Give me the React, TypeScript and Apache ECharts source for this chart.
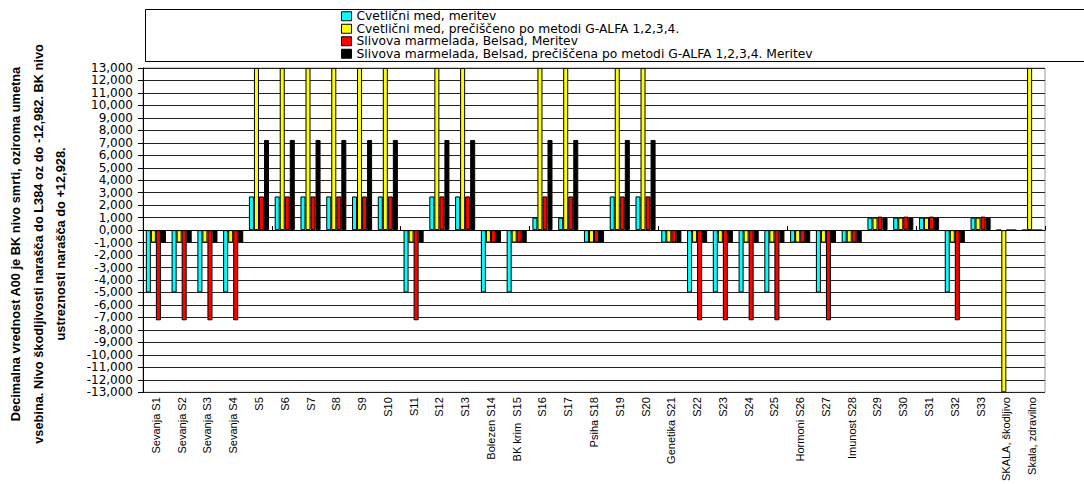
import React, { useEffect, useRef } from "react";
import * as echarts from "echarts";

const categories = [
  "Sevanja S1", "Sevanja S2", "Sevanja S3", "Sevanja S4", "S5", "S6", "S7", "S8", "S9", "S10",
  "S11", "S12", "S13", "Bolezen S14", "BK krim  S15", "S16", "S17", "Psiha S18", "S19", "S20",
  "Genetika S21", "S22", "S23", "S24", "S25", "Hormoni S26", "S27", "Imunost S28", "S29", "S30",
  "S31", "S32", "S33", "SKALA, škodljivo", "Skala, zdravilno",
];

const seriesNames = [
  "Cvetlični med, meritev",
  "Cvetlični med, prečiščeno po metodi G-ALFA 1,2,3,4.",
  "Slivova marmelada, Belsad, Meritev",
  "Slivova marmelada, Belsad, prečiščena po metodi G-ALFA 1,2,3,4. Meritev",
];

const cvetlicniMeritev = [
  -5, -5, -5, -5, 2.7, 2.7, 2.7, 2.7, 2.7, 2.7,
  -5, 2.7, 2.7, -5, -5, 1, 1, -1, 2.7, 2.7,
  -1, -5, -5, -5, -5, -1, -5, -1, 1, 1,
  1, -5, 1, 0, 0,
];

const cvetlicniPreciscen = [
  -1, -1, -1, -1, 13, 13, 13, 13, 13, 13,
  -1, 13, 13, -1, -1, 13, 13, -1, 13, 13,
  -1, -1, -1, -1, -1, -1, -1, -1, 1, 1,
  1, -1, 1, -13, 13,
];

const slivovaMeritev = [
  -7.23, -7.23, -7.23, -7.23, 2.7, 2.7, 2.7, 2.7, 2.7, 2.7,
  -7.23, 2.7, 2.7, -1, -1, 2.7, 2.7, -1, 2.7, 2.7,
  -1, -7.23, -7.23, -7.23, -7.23, -1, -7.23, -1, 1.08, 1.08,
  1.08, -7.23, 1.08, 0, 0,
];

const slivovaPreciscena = [
  -1, -1, -1, -1, 7.23, 7.23, 7.23, 7.23, 7.23, 7.23,
  -1, 7.23, 7.23, -1, -1, 7.23, 7.23, -1, 7.23, 7.23,
  -1, -1, -1, -1, -1, -1, -1, -1, 1, 1,
  1, -1, 1, 0, 0,
];

const seriesColors = ["#00FFFF", "#FFFF00", "#FF0000", "#000000"];

const yTitleLines = [
  "Decimalna vrednost A00 je BK nivo smrti, oziroma umetna",
  "vsebina. Nivo škodljivosti narašča do L384 oz do -12,982. BK nivo",
  "ustreznosti narašča do +12,928.",
];

export default function App() {
  const ref = useRef<HTMLDivElement>(null);

  useEffect(() => {
    if (!ref.current) return;
    const chart = echarts.init(ref.current, undefined, { renderer: "svg" });
    const values = [cvetlicniMeritev, cvetlicniPreciscen, slivovaMeritev, slivovaPreciscena];
    const font = "'DejaVu Sans', 'Liberation Sans', Arial, sans-serif";
    const lineX = [15, 38, 60];

    chart.setOption({
      animation: false,
      backgroundColor: "#ffffff",
      graphic: [
        {
          type: "rect",
          shape: { x: 145.5, y: 9.5, width: 960, height: 52 },
          style: { fill: "#fff", stroke: "#000", lineWidth: 1 },
          z: -1,
        },
        ...yTitleLines.map((t, i) => ({
          type: "text",
          x: lineX[i],
          y: 244,
          rotation: Math.PI / 2,
          style: {
            text: t,
            fill: "#000",
            font: "bold 12.8px 'Liberation Sans', Arial, sans-serif",
            textAlign: "center",
            textVerticalAlign: "middle",
          },
        })),
      ],
      legend: {
        data: seriesNames,
        orient: "vertical",
        left: 341,
        top: 10,
        padding: 0,
        itemWidth: 10,
        itemHeight: 9,
        itemGap: 0,
        icon: "rect",
        itemStyle: { borderColor: "#000", borderWidth: 1 },
        textStyle: { fontFamily: font, fontSize: 12.3, color: "#000", lineHeight: 12.5 },
      },
      grid: {
        left: 143,
        top: 68,
        width: 902,
        height: 330,
        show: true,
        borderColor: "#999",
        borderWidth: 1,
        backgroundColor: "#fff",
      },
      xAxis: [
        {
          type: "category",
          data: categories,
          position: "bottom",
          axisLine: { onZero: false, show: false },
          axisTick: { show: false },
          axisLabel: {
            rotate: 90,
            interval: 0,
            margin: 5,
            fontFamily: "'Liberation Sans', Arial, sans-serif",
            fontSize: 11,
            color: "#000",
          },
        },
        {
          type: "category",
          data: categories,
          position: "bottom",
          axisLine: { onZero: true, show: true, lineStyle: { color: "#000", width: 1 } },
          axisTick: { show: true, inside: true, length: 4, lineStyle: { color: "#000" } },
          axisLabel: { show: false },
        },
      ],
      yAxis: {
        type: "value",
        min: -13,
        max: 13,
        interval: 1,
        axisLine: { show: true, lineStyle: { color: "#000" } },
        axisTick: { show: true, length: 5, lineStyle: { color: "#000" } },
        axisLabel: {
          margin: 10,
          fontFamily: font,
          fontSize: 12,
          lineHeight: 12,
          color: "#000",
          showMinLabel: true,
          showMaxLabel: true,
          hideOverlap: false,
          formatter: (v: number) => v.toFixed(3).replace(".", ","),
        },
        splitLine: { show: true, lineStyle: { color: "#222", width: 1 } },
      },
      series: seriesNames.map((name, i) => ({
        name,
        type: "bar",
        xAxisIndex: 0,
        data: values[i],
        barGap: "0%",
        barCategoryGap: "22%",
        itemStyle: { color: seriesColors[i], borderColor: "#000", borderWidth: 1 },
      })),
    });

    return () => chart.dispose();
  }, []);

  return <div ref={ref} style={{ width: 1084, height: 484, position: "absolute", left: 0, top: 0 }} />;
}
